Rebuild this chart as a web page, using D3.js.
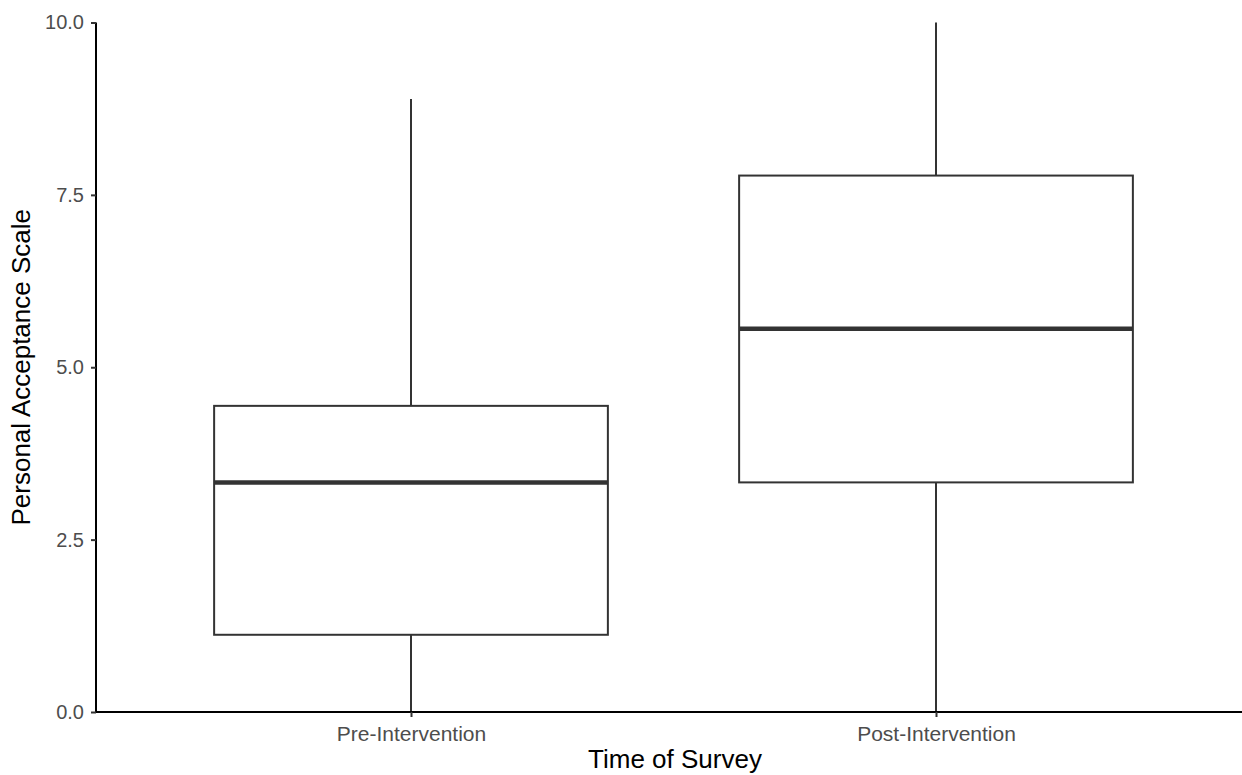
<!DOCTYPE html>
<html><head><meta charset="utf-8">
<script src="https://cdn.jsdelivr.net/npm/d3@7"></script>
<style>body{margin:0;background:#fff}svg{display:block}</style>
</head><body>
<svg id="c" width="1242" height="775"></svg>
<script>
const categories = ["Pre-Intervention", "Post-Intervention"];
const whiskerLow = [0, 0];
const q1 = [1.12, 3.33];
const median = [3.33, 5.56];
const q3 = [4.44, 7.78];
const whiskerHigh = [8.89, 10];
const yTicks = [0, 2.5, 5, 7.5, 10];

const svg = d3.select("#c");
const font = "'Liberation Sans', Arial, Helvetica, sans-serif";
const x = d3.scaleLinear().domain([0.4, 2.6]).range([96, 1251]);
const y = d3.scaleLinear().domain([0, 10]).range([712, 22.5]);
const unit = x(2) - x(1);
const bw = 0.75 * unit;
const col = "#333333";

const g = svg.append("g");
categories.forEach((c, i) => {
  const cx = x(i + 1);
  g.append("line").attr("x1", cx).attr("x2", cx).attr("y1", y(q3[i])).attr("y2", y(whiskerHigh[i]))
    .attr("stroke", col).attr("stroke-width", 2);
  g.append("line").attr("x1", cx).attr("x2", cx).attr("y1", y(q1[i])).attr("y2", y(whiskerLow[i]))
    .attr("stroke", col).attr("stroke-width", 2);
  g.append("rect").attr("x", cx - bw / 2).attr("y", y(q3[i])).attr("width", bw).attr("height", y(q1[i]) - y(q3[i]))
    .attr("fill", "#fff").attr("stroke", col).attr("stroke-width", 2);
  g.append("line").attr("x1", cx - bw / 2).attr("x2", cx + bw / 2).attr("y1", y(median[i])).attr("y2", y(median[i]))
    .attr("stroke", col).attr("stroke-width", 4.5);
});

// y axis
const ya = svg.append("g").attr("transform", "translate(96,0)")
  .call(d3.axisLeft(y).tickValues(yTicks).tickFormat(d3.format(".1f")).tickSize(5).tickPadding(7));
ya.select(".domain").attr("stroke", "#000").attr("stroke-width", 2).attr("d", `M0,${y(10)}V${y(0)}`);
ya.selectAll(".tick line").attr("stroke", "#333").attr("stroke-width", 2);
ya.selectAll(".tick text").attr("fill", "#4d4d4d").style("font-family", font).style("font-size", "20px");

// x axis
const xa = svg.append("g").attr("transform", `translate(0,${y(0)})`)
  .call(d3.axisBottom(x).tickValues([1, 2]).tickFormat((d) => categories[d - 1]).tickSize(5).tickPadding(9));
xa.select(".domain").attr("stroke", "#000").attr("stroke-width", 2).attr("d", `M96,0H1242`);
xa.selectAll(".tick line").attr("stroke", "#333").attr("stroke-width", 2);
xa.selectAll(".tick text").attr("fill", "#4d4d4d").style("font-family", font).style("font-size", "21px");

svg.append("text").attr("x", 675).attr("y", 768).attr("text-anchor", "middle")
  .style("font-family", font).style("font-size", "26px").attr("fill", "#000").text("Time of Survey");
svg.append("text").attr("transform", `translate(30,${(y(0) + y(10)) / 2}) rotate(-90)`).attr("text-anchor", "middle")
  .style("font-family", font).style("font-size", "26px").attr("fill", "#000").text("Personal Acceptance Scale");
</script>
</body></html>
